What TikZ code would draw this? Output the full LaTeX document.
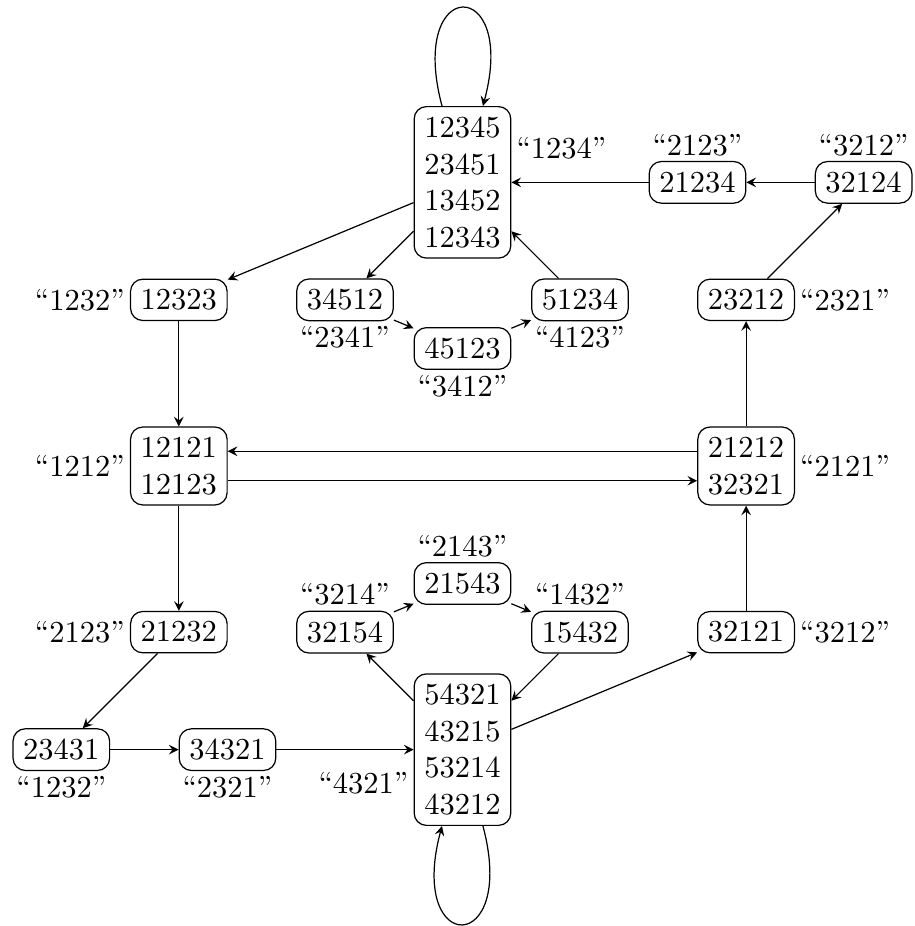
\documentclass[tikz,border=0pt]{standalone}
\begin{document}
\begin{tikzpicture}[>=stealth,x=1.354cm,y=1.354cm,
		st/.style={draw,rounded corners,align=center},
		every label/.append style={inner sep=1.5pt},
		every loop/.style={looseness=8.5}]
		\useasboundingbox (-3.936,-3.915) rectangle (3.843,3.966);
		\node[st,label=20:{``1234''}] (w12345) at (0,2.414) {12345\\23451\\13452\\12343};
		\node[st,label=above:{``2123''}] (w21234) at (2,2.414) {21234};
		\node[st,label=above:{``3212''}] (w32124) at (3.414,2.414) {32124};
		\node[st,label=left:{``1232''}] (w12323) at (-2.414,1.414) {12323};
		\node[st,label=below:{``2341''}] (w34512) at (-1,1.414) {34512};
		\node[st,label=below:{``3412''}] (w45123) at (0,1) {45123};
		\node[st,label=below:{``4123''}] (w51234) at (1,1.414) {51234};
		\node[st,label=right:{``2321''}] (w23212) at (2.414,1.414) {23212};
		\node[st,label=left:{``1212''}] (w12121) at (-2.414,0) {12121\\12123};
		\node[st,label=right:{``2121''}] (w21212) at (2.414,0) {21212\\32321};
		\node[st,label=above:{``2143''}] (w21543) at (0,-1) {21543};
		\node[st,label=above:{``3214''}] (w32154) at (-1,-1.414) {32154};
		\node[st,label=above:{``1432''}] (w15432) at (1,-1.414) {15432};
		\node[st,label=left:{``2123''}] (w21232) at (-2.414,-1.414) {21232};
		\node[st,label=right:{``3212''}] (w32121) at (2.414,-1.414) {32121};
		\node[st,label=200:{``4321''}] (w54321) at (0,-2.414) {54321\\43215\\53214\\43212};
		\node[st,label=below:{``1232''}] (w23431) at (-3.414,-2.414) {23431};
		\node[st,label=below:{``2321''}] (w34321) at (-2,-2.414) {34321};
		% upper half
		\draw[->] (w12345) to[loop above] (w12345);
		\draw[->] (w32124) -- (w21234);
		\draw[->] (w21234) -- (w12345);
		\draw[->] (w12345) -- (w12323);
		\draw[->] (w12345) -- (w34512);
		\draw[->] (w34512) -- (w45123);
		\draw[->] (w45123) -- (w51234);
		\draw[->] (w51234) -- (w12345);
		\draw[->] (w23212) -- (w32124);
		% middle
		\draw[->] (w12323) -- (w12121);
		\draw[->] (w21212) -- (w23212);
		\draw[->] ([yshift=1.7mm]w21212.west) -- ([yshift=1.7mm]w12121.east);
		\draw[->] ([yshift=-1.7mm]w12121.east) -- ([yshift=-1.7mm]w21212.west);
		\draw[->] (w12121) -- (w21232);
		\draw[->] (w32121) -- (w21212);
		% lower half
		\draw[->] (w21232) -- (w23431);
		\draw[->] (w23431) -- (w34321);
		\draw[->] (w34321) -- (w54321);
		\draw[->] (w54321) -- (w32154);
		\draw[->] (w32154) -- (w21543);
		\draw[->] (w21543) -- (w15432);
		\draw[->] (w15432) -- (w54321);
		\draw[->] (w54321) -- (w32121);
		\draw[->] (w54321) to[loop below] (w54321);
		\end{tikzpicture}
\end{document}
